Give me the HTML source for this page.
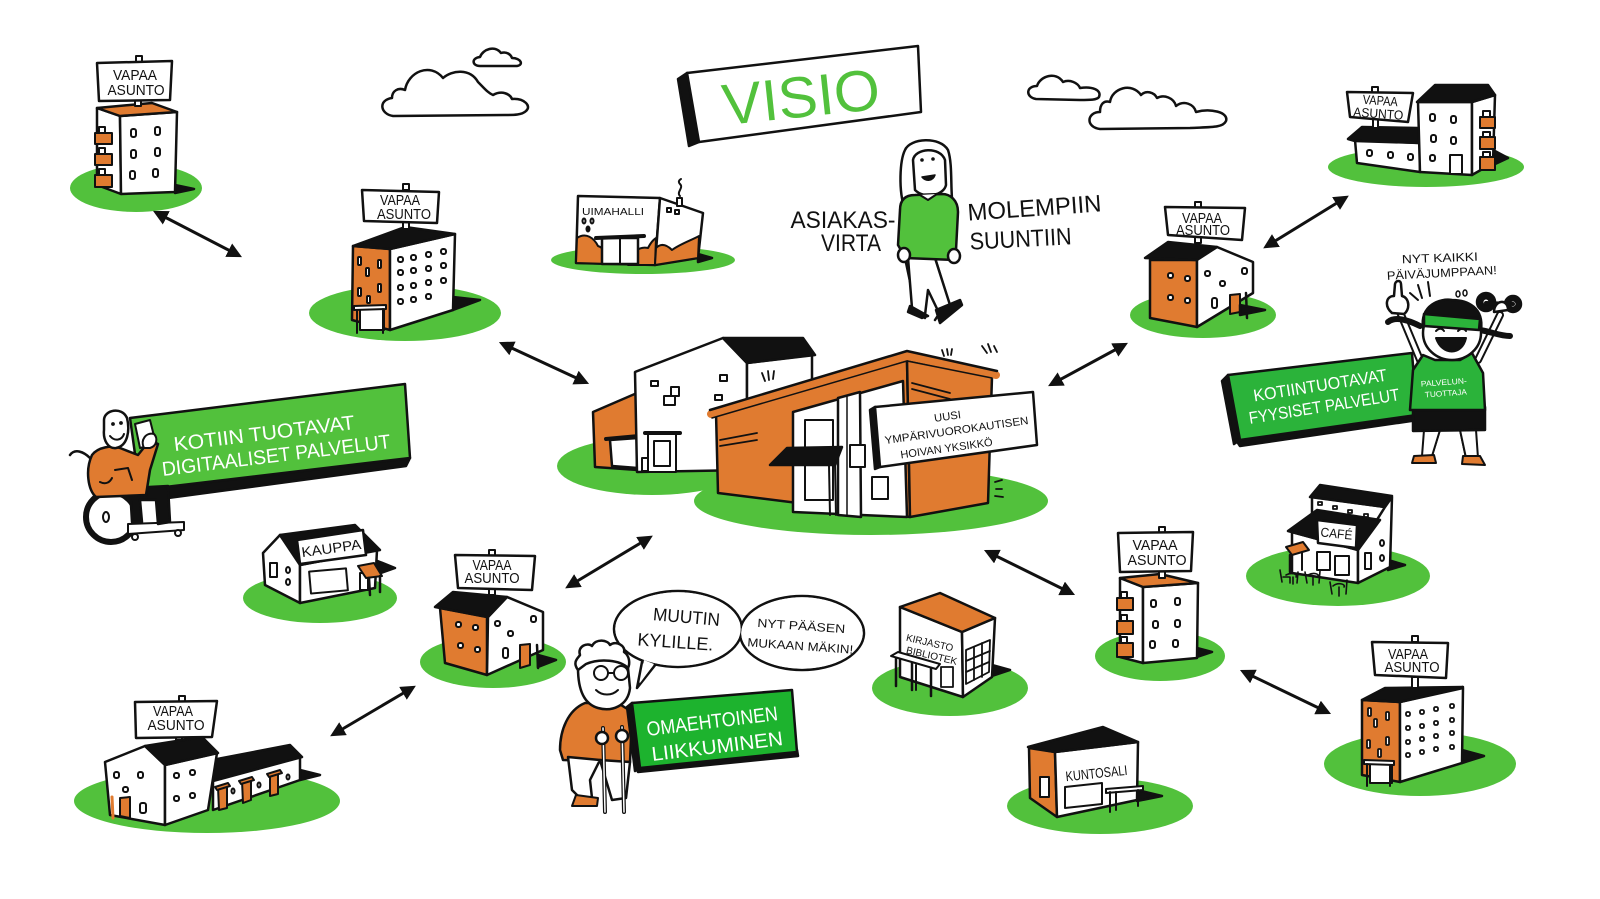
<!DOCTYPE html>
<html><head><meta charset="utf-8"><title>Visio</title>
<style>
html,body{margin:0;padding:0;background:#fff;width:1600px;height:899px;overflow:hidden}
svg{display:block}
text{font-family:"Liberation Sans","DejaVu Sans",sans-serif}
</style></head><body>
<svg width="1600" height="899" viewBox="0 0 1600 899" xmlns="http://www.w3.org/2000/svg">
<defs>
<marker id="ah" viewBox="0 0 10 10" refX="7" refY="5" markerWidth="5" markerHeight="5" orient="auto-start-reverse"><path d="M0,0 L10,5 L0,10 z" fill="#111"/></marker>
</defs>
<rect width="1600" height="899" fill="#fff"/>

<!-- green lawns -->
<g fill="#52c13c">
<ellipse cx="136" cy="188" rx="66" ry="24"/>
<ellipse cx="405" cy="313" rx="96" ry="28"/>
<ellipse cx="643" cy="260" rx="92" ry="14"/>
<ellipse cx="652" cy="466" rx="95" ry="29"/>
<ellipse cx="871" cy="501" rx="177" ry="34"/>
<ellipse cx="1426" cy="167" rx="98" ry="20"/>
<ellipse cx="1203" cy="315" rx="73" ry="23"/>
<ellipse cx="320" cy="598" rx="77" ry="25"/>
<ellipse cx="493" cy="662" rx="73" ry="26"/>
<ellipse cx="207" cy="801" rx="133" ry="32"/>
<ellipse cx="950" cy="688" rx="78" ry="28"/>
<ellipse cx="1160" cy="656" rx="65" ry="25"/>
<ellipse cx="1338" cy="576" rx="92" ry="30"/>
<ellipse cx="1100" cy="806" rx="93" ry="28"/>
<ellipse cx="1420" cy="764" rx="96" ry="32"/>
</g>

<!-- arrows -->
<g stroke="#111" stroke-width="3" marker-start="url(#ah)" marker-end="url(#ah)">
<line x1="157" y1="213" x2="238" y2="255"/>
<line x1="503" y1="344" x2="585" y2="382"/>
<line x1="1052" y1="384" x2="1124" y2="345"/>
<line x1="1267" y1="246" x2="1345" y2="198"/>
<line x1="569" y1="586" x2="649" y2="538"/>
<line x1="334" y1="734" x2="412" y2="688"/>
<line x1="988" y1="552" x2="1071" y2="593"/>
<line x1="1244" y1="672" x2="1327" y2="712"/>
</g>

<!-- clouds -->
<g fill="#fff" stroke="#111" stroke-width="2.5" stroke-linejoin="round">
<path d="M393,116 C380,114 378,100 392,98 C392,91 398,87 405,90 C408,72 430,62 443,78 C452,70 470,68 478,82 C484,88 488,93 493,95 C502,90 510,94 512,99 C524,98 532,106 526,111 C522,115 514,115 505,115 Z"/>
<path d="M480,66 C472,66 471,58 480,57 C483,49 495,45 501,53 C507,51 511,55 512,58 C521,58 524,65 517,66 Z"/>
<path d="M1036,99 C1025,97 1026,86 1037,86 C1040,76 1056,71 1063,82 C1070,79 1078,83 1080,88 C1092,86 1102,90 1099,97 C1097,100 1090,100 1080,100 Z"/>
<path d="M1100,129 C1085,127 1087,112 1100,112 C1100,104 1104,100 1110,102 C1112,88 1132,82 1141,95 C1146,90 1154,92 1157,98 C1164,94 1174,98 1176,106 C1184,100 1194,104 1196,112 C1210,108 1229,112 1226,121 C1223,128 1210,127 1190,128 Z"/>
</g>

<g stroke="#111" stroke-width="2.5" stroke-linejoin="round" stroke-linecap="round" fill="#fff">

<!-- ===== TL tower ===== -->
<polygon points="175,185 194,189 175,193" fill="#111"/>
<polygon points="97,108 120,116 121,194 97,185"/>
<polygon points="120,116 177,112 175,192 121,194"/>
<polygon points="97,108 152,103 177,112 120,116" fill="#e07b30"/>
<g stroke-width="2">
<rect x="131" y="129" width="5" height="8" rx="2"/><rect x="155" y="127" width="5" height="8" rx="2"/>
<rect x="131" y="150" width="5" height="8" rx="2"/><rect x="155" y="148" width="5" height="8" rx="2"/>
<rect x="130" y="171" width="5" height="8" rx="2"/><rect x="153" y="169" width="5" height="8" rx="2"/>
<rect x="99" y="127" width="6" height="6"/><rect x="95" y="133" width="17" height="11" fill="#e07b30"/>
<rect x="99" y="148" width="6" height="6"/><rect x="95" y="154" width="17" height="11" fill="#e07b30"/>
<rect x="99" y="169" width="6" height="6"/><rect x="95" y="175" width="17" height="12" fill="#e07b30"/>
</g>
<rect x="135" y="100" width="6" height="6" stroke-width="2"/>
<rect x="136" y="56" width="6" height="6" stroke-width="2"/>
<polygon points="97,63 172,61 170,100 99,101"/>

<!-- ===== building 2 ===== -->
<polygon points="453,297 480,300 453,310" fill="#111"/>
<polygon points="353,246 390,249 390,330 352,320" fill="#e07b30"/>
<polygon points="390,249 455,234 453,310 390,330"/>
<polygon points="353,246 405,227 455,234 390,249" fill="#111"/>
<g stroke-width="2">
<rect x="398" y="257" width="5" height="5" rx="2"/><rect x="411" y="255" width="5" height="5" rx="2"/><rect x="426" y="252" width="5" height="5" rx="2"/><rect x="441" y="249" width="5" height="5" rx="2"/>
<rect x="398" y="270" width="5" height="5" rx="2"/><rect x="411" y="268" width="5" height="5" rx="2"/><rect x="426" y="266" width="5" height="5" rx="2"/><rect x="441" y="263" width="5" height="5" rx="2"/>
<rect x="398" y="285" width="5" height="5" rx="2"/><rect x="411" y="283" width="5" height="5" rx="2"/><rect x="426" y="280" width="5" height="5" rx="2"/><rect x="441" y="278" width="5" height="5" rx="2"/>
<rect x="398" y="299" width="5" height="5" rx="2"/><rect x="411" y="297" width="5" height="5" rx="2"/><rect x="426" y="294" width="5" height="5" rx="2"/>
<rect x="358" y="257" width="3" height="8" rx="1"/><rect x="378" y="260" width="3" height="8" rx="1"/><rect x="366" y="268" width="3" height="8" rx="1"/>
<rect x="358" y="288" width="3" height="8" rx="1"/><rect x="378" y="284" width="3" height="8" rx="1"/><rect x="367" y="296" width="3" height="7" rx="1"/>
</g>
<rect x="360" y="308" width="24" height="22" stroke-width="2"/>
<polygon points="354,306 386,305 386,309 354,310" stroke-width="2"/>
<line x1="357" y1="310" x2="357" y2="333" stroke-width="2"/><line x1="383" y1="309" x2="383" y2="333" stroke-width="2"/>
<rect x="403" y="221" width="6" height="8" stroke-width="2"/>
<rect x="403" y="184" width="6" height="6" stroke-width="2"/>
<polygon points="362,190 439,192 437,223 364,221"/>

<!-- ===== UIMAHALLI ===== -->
<polygon points="698,254 712,258 698,262" fill="#111"/>
<polygon points="578,196 660,198 655,265 576,263"/>
<polygon points="660,198 703,213 698,258 655,265"/>
<path d="M577,238 C586,232 594,238 598,246 C604,248 609,255 610,264 L576,263 Z" fill="#e07b30" stroke-width="2"/>
<path d="M628,265 C630,252 640,246 648,248 C652,240 656,238 656,238 L655,265 Z" fill="#e07b30" stroke-width="2"/>
<path d="M655,265 L656,248 C662,242 668,246 672,250 C680,244 692,240 699,236 L698,258 Z" fill="#e07b30" stroke-width="2"/>
<rect x="602" y="238" width="36" height="26"/>
<line x1="596" y1="238" x2="644" y2="236" stroke-width="4"/>
<line x1="620" y1="238" x2="620" y2="264" stroke-width="2"/>
<g stroke-width="2"><rect x="667" y="208" width="4" height="4"/><rect x="675" y="210" width="4" height="4"/>
<ellipse cx="584" cy="221" rx="1.5" ry="2.5"/><ellipse cx="592" cy="221" rx="1.5" ry="2.5"/><ellipse cx="588" cy="229" rx="1.5" ry="2.5" fill="#111"/>
<rect x="677" y="198" width="5" height="8"/><path d="M680,196 C676,192 684,188 680,184 C677,181 681,179 681,179" fill="none"/></g>

<!-- ===== VISIO sign ===== -->
<polygon points="678,79 687,73 699,142 689,146" fill="#111"/>
<polygon points="687,73 918,46 921,112 699,142"/>

<!-- ===== Woman (center) ===== -->
<path d="M905,210 C898,190 900,160 905,150 C910,138 940,136 948,150 C953,165 950,190 953,208 L940,205 L918,205 Z"/>
<path d="M913,160 C915,148 940,146 945,160 L946,185 C944,195 925,200 915,190 Z"/>
<circle cx="922" cy="160" r="1.3" fill="#111" stroke-width="1"/><circle cx="933" cy="159" r="1.3" fill="#111" stroke-width="1"/>
<path d="M922,177 C926,182 933,181 935,175 Z" fill="#111" stroke-width="1.5"/>
<path d="M905,258 L915,305 L925,318 M935,258 L948,300 L935,320" fill="none"/>
<polygon points="908,258 935,258 950,305 940,315 928,290 925,315 912,308"/>
<path d="M910,306 L928,316 L922,318 L908,312 Z" fill="#111"/>
<path d="M936,310 L960,300 L962,305 L940,323 Z" fill="#111"/>
<path d="M915,195 C905,195 900,200 900,210 L898,245 L902,252 L905,258 L955,260 L956,250 L958,212 C958,200 950,194 942,194 Z" fill="#52c13c"/>
<path d="M920,195 L928,200 L937,194" fill="#fff" stroke-width="2"/>
<ellipse cx="904" cy="255" rx="6" ry="7"/><ellipse cx="954" cy="256" rx="6" ry="7"/>

<!-- ===== Top-right building ===== -->
<polygon points="1493,150 1508,158 1493,165" fill="#111"/>
<polygon points="1355,140 1420,143 1420,172 1357,163"/>
<polygon points="1348,139 1362,127 1418,128 1420,143 1355,141" fill="#111"/>
<polygon points="1418,102 1472,102 1472,175 1420,172"/>
<polygon points="1472,102 1495,95 1493,163 1472,175"/>
<polygon points="1417,102 1435,85 1488,85 1495,95 1472,102" fill="#111"/>
<g stroke-width="2">
<rect x="1367" y="150" width="5" height="6" rx="2"/><rect x="1388" y="152" width="5" height="6" rx="2"/><rect x="1408" y="154" width="5" height="6" rx="2"/><rect x="1430" y="155" width="5" height="6" rx="2"/>
<rect x="1430" y="114" width="5" height="7" rx="2"/><rect x="1451" y="116" width="5" height="7" rx="2"/>
<rect x="1431" y="135" width="5" height="7" rx="2"/><rect x="1451" y="137" width="5" height="7" rx="2"/>
<rect x="1450" y="155" width="12" height="19"/>
<rect x="1483" y="111" width="7" height="6"/><rect x="1480" y="117" width="15" height="11" fill="#e07b30"/>
<rect x="1483" y="132" width="7" height="6"/><rect x="1480" y="137" width="15" height="12" fill="#e07b30"/>
<rect x="1483" y="152" width="7" height="6"/><rect x="1480" y="157" width="15" height="13" fill="#e07b30"/>
</g>
<rect x="1373" y="117" width="5" height="11" stroke-width="2"/>
<rect x="1372" y="87" width="6" height="6" stroke-width="2"/>
<polygon points="1347,92 1413,93 1408,122 1350,117"/>

<!-- ===== Right house ===== -->
<polygon points="1150,260 1197,260 1197,327 1150,318" fill="#e07b30"/>
<polygon points="1197,259 1217,247 1253,262 1253,293 1197,327"/>
<polygon points="1145,258 1168,242 1217,247 1197,260" fill="#111"/>
<polygon points="1230,295 1240,294 1240,312 1230,314" fill="#e07b30" stroke-width="2"/>
<line x1="1246" y1="293" x2="1247" y2="318" stroke-width="2.5"/>
<polygon points="1240,305 1265,310 1240,315" fill="#111"/>
<g stroke-width="2">
<rect x="1168" y="273" width="5" height="5" rx="2"/><rect x="1185" y="276" width="5" height="5" rx="2"/>
<rect x="1168" y="295" width="5" height="5" rx="2"/><rect x="1185" y="298" width="5" height="5" rx="2"/>
<rect x="1205" y="271" width="5" height="5" rx="2"/><rect x="1220" y="281" width="5" height="5" rx="2"/><rect x="1242" y="268" width="5" height="6" rx="2"/>
<rect x="1212" y="298" width="5" height="10" rx="2"/>
</g>
<rect x="1195" y="235" width="6" height="8" stroke-width="2"/>
<rect x="1195" y="202" width="6" height="6" stroke-width="2"/>
<polygon points="1165,207 1245,208 1242,240 1168,235"/>

<!-- ===== Right green box ===== -->
<polygon points="1222,381 1228,375 1240,440 1234,444" fill="#111"/>
<polygon points="1236,440 1417,415 1418,420 1240,446" fill="#111"/>
<polygon points="1228,375 1412,353 1417,415 1240,440" fill="#2bb33a"/>

<!-- ===== Sporty woman ===== -->
<path d="M1420,360 L1400,312" fill="none" stroke-width="8"/>
<path d="M1420,360 L1400,312" fill="none" stroke="#fff" stroke-width="4"/>
<path d="M1478,360 L1500,315" fill="none" stroke-width="8"/>
<path d="M1478,360 L1500,315" fill="none" stroke="#fff" stroke-width="4"/>
<path d="M1392,313 C1384,306 1386,296 1394,296 L1395,284 C1396,280 1401,280 1401,284 L1402,296 C1410,298 1410,310 1404,314 Z"/>
<circle cx="1486" cy="302" r="9" fill="#111"/><circle cx="1486" cy="302" r="3" fill="#fff" stroke-width="1"/>
<circle cx="1513" cy="304" r="8" fill="#111"/><circle cx="1513" cy="304" r="3" fill="#fff" stroke-width="1"/>
<line x1="1486" y1="303" x2="1513" y2="304" stroke-width="4"/>
<path d="M1494,312 C1494,300 1508,298 1508,310 Z"/>
<path d="M1428,430 L1424,456 M1440,430 L1432,456 M1460,430 L1466,458 M1474,430 L1478,458" fill="none" stroke-width="2"/>
<polygon points="1424,430 1440,430 1432,456 1422,456" stroke-width="2"/>
<polygon points="1460,430 1476,430 1478,458 1466,458" stroke-width="2"/>
<path d="M1414,456 L1434,455 L1436,463 L1412,463 Z" fill="#e07b30" stroke-width="2"/>
<path d="M1463,456 L1480,456 L1485,465 L1462,464 Z" fill="#e07b30" stroke-width="2"/>
<polygon points="1413,407 1485,407 1485,430 1413,431" fill="#111"/>
<path d="M1423,355 L1413,370 L1410,410 L1485,410 L1483,373 L1472,353 L1460,360 L1435,360 Z" fill="#2bb33a"/>
<path d="M1388,322 C1395,316 1408,320 1420,326 M1480,330 C1492,332 1500,336 1510,336" fill="none" stroke-width="6"/>
<ellipse cx="1452" cy="333" rx="29" ry="27"/>
<path d="M1423,328 C1420,305 1440,298 1452,300 C1468,300 1484,308 1481,330 L1478,318 L1426,316 Z" fill="#111"/>
<polygon points="1424,314 1480,319 1479,330 1424,326" fill="#2bb33a"/>
<path d="M1436,338 C1442,356 1462,356 1466,338 Z" fill="#111" stroke-width="2"/>
<path d="M1436,331 C1439,328 1442,328 1444,331 M1458,331 C1461,328 1464,328 1466,331" fill="none" stroke-width="2"/>
<path d="M1418,285 L1422,298 M1428,282 L1430,296 M1410,293 L1418,300" fill="none" stroke-width="2"/>
<ellipse cx="1458" cy="294" rx="2" ry="3" stroke-width="1.5"/><ellipse cx="1465" cy="293" rx="2" ry="3" stroke-width="1.5"/>

<!-- ===== Left green box & wheelchair man ===== -->
<polygon points="160,488 410,458 406,466 168,498" fill="#111"/>
<polygon points="130,418 405,384 410,458 140,490" fill="#52c13c"/>
<path d="M70,455 C75,448 84,452 90,458" fill="none" stroke-width="2.5"/>
<circle cx="111" cy="517" r="25" fill="none" stroke-width="6"/>
<ellipse cx="106" cy="517" rx="3" ry="5" stroke-width="2"/>
<path d="M128,524 L184,522 L184,530 L128,534 Z" stroke-width="2"/>
<circle cx="135" cy="537" r="3" stroke-width="2"/><circle cx="178" cy="533" r="3" stroke-width="2"/>
<path d="M130,488 L168,486 L170,522 L158,524 L156,500 L140,500 L142,522 L132,522 Z" fill="#111"/>
<path d="M92,455 C98,447 112,445 120,448 L138,455 L150,440 L158,444 L150,470 L146,495 L96,497 C88,490 85,470 92,455 Z" fill="#e07b30"/>
<path d="M115,470 L128,468 L132,480 M100,482 C106,485 110,482 112,478" fill="none" stroke-width="2"/>
<polygon points="135,424 150,420 156,444 140,448" stroke-width="2"/>
<path d="M144,448 C140,440 146,432 154,434 C158,438 157,446 150,448 Z" stroke-width="2"/>
<path d="M104,420 C104,410 122,406 127,418 C130,430 128,446 116,448 C108,449 103,440 104,430 Z"/>
<circle cx="113" cy="424" r="1.4" fill="#111" stroke-width="1"/><circle cx="121" cy="423" r="1.4" fill="#111" stroke-width="1"/>
<path d="M110,436 C115,442 122,440 124,434" fill="none" stroke-width="2"/>

<!-- ===== KAUPPA ===== -->
<polygon points="375,560 395,568 375,575" fill="#111"/>
<polygon points="263,553 280,535 300,563 300,603 265,585"/>
<polygon points="300,565 377,550 375,588 300,603"/>
<polygon points="280,535 355,525 380,550 300,565" fill="#111"/>
<polygon points="297,540 363,530 366,555 300,564"/>
<rect x="310" y="570" width="37" height="22" stroke-width="2" transform="rotate(-5 328 581)"/>
<rect x="270" y="563" width="7" height="14" stroke-width="2"/>
<ellipse cx="288" cy="570" rx="2" ry="3" stroke-width="2"/><ellipse cx="288" cy="582" rx="2" ry="3" stroke-width="2"/>
<rect x="360" y="573" width="8" height="17" stroke-width="2"/>
<polygon points="358,566 374,563 382,576 366,578" fill="#e07b30" stroke-width="2"/>
<line x1="369" y1="578" x2="370" y2="595" stroke-width="2.5"/><line x1="380" y1="576" x2="380" y2="592" stroke-width="2.5"/>

<!-- ===== center-left VAPAA house ===== -->
<polygon points="440,608 487,617 487,675 445,663" fill="#e07b30"/>
<polygon points="488,617 507,597 543,612 543,650 487,675"/>
<polygon points="435,607 453,592 507,597 488,617" fill="#111"/>
<polygon points="520,645 530,644 530,665 520,668" fill="#e07b30" stroke-width="2"/>
<line x1="537" y1="645" x2="538" y2="668" stroke-width="2.5"/>
<polygon points="538,655 556,660 538,667" fill="#111"/>
<g stroke-width="2">
<rect x="456" y="622" width="5" height="5" rx="2"/><rect x="473" y="625" width="5" height="5" rx="2"/>
<rect x="458" y="643" width="5" height="5" rx="2"/><rect x="475" y="647" width="5" height="5" rx="2"/>
<rect x="495" y="621" width="5" height="5" rx="2"/><rect x="508" y="631" width="5" height="5" rx="2"/><rect x="531" y="616" width="5" height="6" rx="2"/>
<rect x="503" y="648" width="5" height="10" rx="2"/>
</g>
<rect x="489" y="587" width="6" height="8" stroke-width="2"/>
<rect x="489" y="550" width="6" height="6" stroke-width="2"/>
<polygon points="455,555 535,556 532,590 458,588"/>

<!-- ===== bottom-left building ===== -->
<polygon points="300,770 320,775 300,780" fill="#111"/>
<polygon points="213,780 300,757 300,780 213,810"/>
<polygon points="212,760 290,745 302,757 213,781" fill="#111"/>
<polygon points="105,762 145,746 165,765 165,825 110,815"/>
<polygon points="165,765 217,753 208,810 165,825"/>
<polygon points="145,746 202,737 218,753 165,765" fill="#111"/>
<g stroke-width="2">
<rect x="114" y="772" width="5" height="6" rx="2"/><rect x="138" y="772" width="5" height="6" rx="2"/><rect x="123" y="787" width="5" height="5" rx="2"/>
<rect x="140" y="803" width="6" height="10" rx="2"/>
<rect x="174" y="773" width="5" height="5" rx="2"/><rect x="190" y="770" width="5" height="5" rx="2"/>
<rect x="174" y="796" width="5" height="5" rx="2"/><rect x="190" y="793" width="5" height="5" rx="2"/>
<polygon points="120,798 130,797 130,818 120,816" fill="#e07b30"/>
<line x1="112" y1="797" x2="113" y2="818" stroke-width="3" stroke="#e07b30"/>
<polygon points="218,787 227,784 227,808 219,810" fill="#e07b30"/>
<polygon points="215,787 228,783 230,786 217,790" fill="#e07b30"/>
<polygon points="242,781 251,778 251,800 243,803" fill="#e07b30"/>
<polygon points="239,781 252,777 254,780 241,784" fill="#e07b30"/>
<polygon points="270,774 278,771 278,794 270,796" fill="#e07b30"/>
<polygon points="267,774 280,770 282,773 269,777" fill="#e07b30"/>
<ellipse cx="233" cy="791" rx="1.5" ry="2.5"/><ellipse cx="259" cy="785" rx="1.5" ry="2.5"/><ellipse cx="288" cy="777" rx="1.5" ry="2.5"/>
</g>
<rect x="176" y="732" width="6" height="8" stroke-width="2"/>
<rect x="179" y="696" width="6" height="6" stroke-width="2"/>
<polygon points="135,702 217,701 212,737 136,738"/>

<!-- ===== Speech bubbles ===== -->
<path d="M642,662 L637,688 L656,664 Z"/>
<ellipse cx="678" cy="629" rx="64" ry="38"/>
<ellipse cx="802" cy="633" rx="62" ry="37"/>
<g stroke="none">
<ellipse cx="678" cy="629" rx="62.7" ry="36.7"/>
<ellipse cx="802" cy="633" rx="60.7" ry="35.7"/>
<path d="M644,660 L640,683 L654,664 Z"/>
</g>

<!-- ===== Old woman ===== -->
<path d="M585,703 C568,710 560,730 560,750 L563,760 L630,762 L632,712 L618,703 Z" fill="#e07b30"/>
<path d="M568,757 L572,790 L582,800 L592,798 L590,780 L600,760 Z"/>
<path d="M576,795 L598,798 L597,806 L572,806 Z" fill="#e07b30" stroke-width="2"/>
<path d="M600,760 L612,800 L626,798 L630,762 Z"/>
<line x1="603" y1="728" x2="605" y2="812" stroke-width="4"/>
<line x1="603" y1="728" x2="605" y2="812" stroke="#fff" stroke-width="1.5"/>
<line x1="622" y1="727" x2="624" y2="812" stroke-width="4"/>
<line x1="622" y1="727" x2="624" y2="812" stroke="#fff" stroke-width="1.5"/>
<ellipse cx="602" cy="738" rx="6" ry="6"/><ellipse cx="622" cy="736" rx="6" ry="6"/>
<path d="M578,668 C576,650 592,642 606,646 C618,646 628,654 628,668 L630,688 C628,706 612,712 598,708 C584,704 578,690 578,668 Z"/>
<path d="M578,670 C572,662 578,658 580,655 C577,646 588,642 592,646 C596,638 608,640 610,645 C616,640 626,646 624,652 C630,656 630,664 628,668 C620,660 600,658 586,664 Z"/>
<circle cx="601" cy="673" r="7" stroke-width="2"/><circle cx="621" cy="673" r="7" stroke-width="2"/>
<line x1="608" y1="673" x2="614" y2="673" stroke-width="2"/>
<path d="M596,690 C602,696 612,696 618,690" fill="none" stroke-width="2"/>

<!-- ===== OMAEHTOINEN box ===== -->
<polygon points="627,707 632,703 640,768 635,771" fill="#111"/>
<polygon points="636,766 797,750 798,756 638,772" fill="#111"/>
<polygon points="632,703 792,690 797,752 640,768" fill="#1db32e"/>

<!-- ===== Kirjasto ===== -->
<polygon points="992,665 1010,670 992,676" fill="#111"/>
<polygon points="900,607 962,632 963,697 900,677"/>
<polygon points="962,632 995,618 992,677 963,697"/>
<polygon points="900,607 940,593 995,618 962,632" fill="#e07b30"/>
<g stroke-width="1.8">
<polygon points="966,650 990,640 989,672 966,684"/>
<line x1="974" y1="647" x2="974" y2="680"/><line x1="982" y1="643" x2="982" y2="677"/>
<line x1="966" y1="661" x2="990" y2="651"/><line x1="966" y1="672" x2="989" y2="662"/>
<rect x="941" y="667" width="12" height="20"/>
</g>
<polygon points="891,656 898,652 940,664 936,669" stroke-width="2"/>
<line x1="896" y1="658" x2="896" y2="686" stroke-width="2.5"/><line x1="912" y1="663" x2="912" y2="690" stroke-width="2.5"/><line x1="931" y1="668" x2="931" y2="696" stroke-width="2.5"/>
<line x1="916" y1="665" x2="916" y2="690" stroke-width="2"/>

<!-- ===== mid-right tower ===== -->
<polygon points="1197,648 1212,652 1197,657" fill="#111"/>
<polygon points="1120,578 1143,587 1143,663 1120,657"/>
<polygon points="1143,587 1198,583 1197,658 1143,663"/>
<polygon points="1120,578 1160,574 1198,583 1143,587" fill="#e07b30"/>
<g stroke-width="2">
<rect x="1151" y="600" width="5" height="7" rx="2"/><rect x="1175" y="598" width="5" height="7" rx="2"/>
<rect x="1153" y="621" width="5" height="7" rx="2"/><rect x="1175" y="620" width="5" height="7" rx="2"/>
<rect x="1150" y="641" width="5" height="7" rx="2"/><rect x="1173" y="640" width="5" height="7" rx="2"/>
<rect x="1121" y="592" width="6" height="6"/><rect x="1117" y="598" width="16" height="12" fill="#e07b30"/>
<rect x="1121" y="615" width="6" height="6"/><rect x="1117" y="621" width="16" height="13" fill="#e07b30"/>
<rect x="1121" y="637" width="6" height="6"/><rect x="1117" y="643" width="16" height="14" fill="#e07b30"/>
</g>
<rect x="1159" y="571" width="6" height="7" stroke-width="2"/>
<rect x="1159" y="527" width="6" height="6" stroke-width="2"/>
<polygon points="1118,533 1193,532 1191,571 1120,572"/>

<!-- ===== Café ===== -->
<polygon points="1388,560 1405,565 1388,570" fill="#111"/>
<polygon points="1312,497 1385,507 1383,528 1312,518"/>
<polygon points="1310,497 1320,485 1392,496 1385,507" fill="#111"/>
<g stroke-width="1.8"><rect x="1318" y="502" width="4" height="3"/><rect x="1333" y="506" width="4" height="3"/><rect x="1348" y="510" width="4" height="3"/><rect x="1364" y="514" width="4" height="3"/></g>
<polygon points="1292,532 1358,550 1358,583 1292,573"/>
<polygon points="1358,550 1385,507 1392,497 1390,567 1358,583"/>
<polygon points="1288,531 1317,510 1380,520 1358,550" fill="#111"/>
<polygon points="1317,520 1357,525 1356,548 1318,543"/>
<g stroke-width="2">
<rect x="1317" y="552" width="13" height="18"/><rect x="1335" y="556" width="14" height="19"/>
<rect x="1365" y="553" width="6" height="16"/>
<ellipse cx="1382" cy="543" rx="2" ry="3"/><ellipse cx="1382" cy="558" rx="2" ry="3"/>
</g>
<polygon points="1286,547 1303,542 1309,550 1292,555" fill="#e07b30" stroke-width="2"/>
<line x1="1290" y1="555" x2="1290" y2="572" stroke-width="2.5"/><line x1="1302" y1="552" x2="1302" y2="570" stroke-width="2"/>
<g stroke-width="1.6" fill="none">
<path d="M1280,570 L1282,582 M1283,577 L1290,577 L1290,583 M1286,575 C1292,572 1298,574 1296,577 M1293,577 L1293,584 M1298,572 L1297,583"/>
<path d="M1305,572 L1307,583 M1308,575 C1314,572 1320,574 1318,577 M1313,577 L1313,585 M1320,571 L1319,583"/>
<path d="M1330,582 L1332,594 M1333,586 C1338,582 1346,584 1344,587 M1339,587 L1339,596 M1347,580 L1346,594"/>
</g>

<!-- ===== Kuntosali ===== -->
<polygon points="1137,790 1162,796 1137,801" fill="#111"/>
<polygon points="1029,748 1055,752 1057,817 1030,798" fill="#e07b30"/>
<polygon points="1055,752 1138,742 1137,800 1057,817"/>
<polygon points="1028,747 1103,727 1138,742 1055,752" fill="#111"/>
<rect x="1040" y="777" width="9" height="20" stroke-width="2"/>
<polygon points="1065,787 1102,783 1102,804 1065,808" stroke-width="2"/>
<polygon points="1106,789 1143,786 1143,790 1106,793" stroke-width="2"/>
<line x1="1110" y1="792" x2="1110" y2="812" stroke-width="2"/><line x1="1116" y1="792" x2="1116" y2="810" stroke-width="2"/><line x1="1138" y1="790" x2="1138" y2="806" stroke-width="2"/>

<!-- ===== bottom-right tower ===== -->
<polygon points="1462,750 1484,756 1462,763" fill="#111"/>
<polygon points="1362,700 1400,702 1400,782 1362,775" fill="#e07b30"/>
<polygon points="1400,702 1463,688 1462,763 1400,782"/>
<polygon points="1362,700 1385,688 1463,687 1400,702" fill="#111"/>
<g stroke-width="1.8">
<rect x="1406" y="712" width="4" height="4" rx="1.5"/><rect x="1420" y="710" width="4" height="4" rx="1.5"/><rect x="1434" y="707" width="4" height="4" rx="1.5"/><rect x="1450" y="704" width="4" height="4" rx="1.5"/>
<rect x="1406" y="726" width="4" height="4" rx="1.5"/><rect x="1420" y="724" width="4" height="4" rx="1.5"/><rect x="1434" y="721" width="4" height="4" rx="1.5"/><rect x="1450" y="718" width="4" height="4" rx="1.5"/>
<rect x="1406" y="740" width="4" height="4" rx="1.5"/><rect x="1420" y="737" width="4" height="4" rx="1.5"/><rect x="1434" y="734" width="4" height="4" rx="1.5"/><rect x="1450" y="731" width="4" height="4" rx="1.5"/>
<rect x="1406" y="753" width="4" height="4" rx="1.5"/><rect x="1420" y="750" width="4" height="4" rx="1.5"/><rect x="1434" y="747" width="4" height="4" rx="1.5"/><rect x="1450" y="745" width="4" height="4" rx="1.5"/>
<rect x="1368" y="708" width="3" height="8" rx="1"/><rect x="1386" y="712" width="3" height="8" rx="1"/><rect x="1374" y="719" width="3" height="8" rx="1"/>
<rect x="1367" y="740" width="3" height="8" rx="1"/><rect x="1386" y="737" width="3" height="8" rx="1"/><rect x="1378" y="749" width="3" height="8" rx="1"/>
</g>
<rect x="1370" y="763" width="22" height="20" stroke-width="2"/>
<polygon points="1364,760 1394,761 1394,765 1364,764" stroke-width="2"/>
<line x1="1367" y1="764" x2="1367" y2="786" stroke-width="2"/><line x1="1390" y1="765" x2="1390" y2="786" stroke-width="2"/>
<rect x="1412" y="677" width="6" height="11" stroke-width="2"/>
<rect x="1412" y="636" width="6" height="6" stroke-width="2"/>
<polygon points="1372,642 1448,643 1446,678 1375,675"/>

<!-- ===== Central building ===== -->
<polygon points="593,412 637,393 637,470 595,467" fill="#e07b30"/>
<polygon points="610,440 637,438 637,468 612,466"/>
<line x1="606" y1="439" x2="639" y2="436" stroke-width="4"/>
<polygon points="635,372 723,338 747,363 747,470 637,472"/>
<polygon points="747,363 812,355 812,412 747,420"/>
<polygon points="723,338 803,338 815,355 747,363" fill="#111"/>
<rect x="648" y="434" width="28" height="38" stroke-width="2"/>
<rect x="654" y="441" width="16" height="25" stroke-width="2"/>
<line x1="645" y1="433" x2="680" y2="433" stroke-width="4"/>
<rect x="642" y="458" width="6" height="13" stroke-width="2"/>
<g stroke-width="2">
<rect x="651" y="381" width="7" height="5"/><rect x="720" y="375" width="7" height="6"/><rect x="715" y="395" width="7" height="5"/>
<rect x="664" y="396" width="11" height="9"/><rect x="671" y="387" width="8" height="9"/>
</g>
<polygon points="716,413 907,359 910,517 718,493" fill="#e07b30"/>
<polygon points="907,359 992,377 988,503 910,517" fill="#e07b30"/>
<polyline points="711,414 907,356 996,375" fill="none" stroke="#e07b30" stroke-width="8"/>
<polyline points="710,410 907,351 997,371" fill="none"/>
<polyline points="712,418 907,361 992,378" fill="none" stroke-width="1.5"/>
<polygon points="793,412 903,381 907,517 793,512"/>
<polygon points="838,398 860,392 861,517 838,515"/>
<line x1="847" y1="396" x2="847" y2="516" stroke-width="1.5"/>
<rect x="805" y="420" width="28" height="80" stroke-width="2"/>
<polygon points="770,465 787,448 842,447 835,465" fill="#111"/>
<line x1="829" y1="465" x2="830" y2="515" stroke-width="2"/><line x1="835" y1="465" x2="836" y2="515" stroke-width="2"/>
<line x1="720" y1="440" x2="757" y2="433" stroke-width="1.8"/><line x1="720" y1="446" x2="757" y2="440" stroke-width="1.8"/>
<line x1="912" y1="383" x2="950" y2="393" stroke-width="1.8"/><line x1="912" y1="389" x2="950" y2="399" stroke-width="1.8"/>
<rect x="850" y="445" width="15" height="22" stroke-width="2"/>
<rect x="872" y="477" width="16" height="22" stroke-width="2"/>
<g stroke-width="1.8" fill="none">
<path d="M762,373 L765,381 M768,371 L769,380 M774,371 L773,379"/>
<path d="M942,350 L944,356 M947,349 L948,355 M952,349 L951,355"/>
<path d="M982,346 L987,353 M988,344 L991,352 M994,346 L997,352"/>
<path d="M995,482 L1002,480 M996,489 L1002,489 M995,496 L1003,497"/>
</g>
<polygon points="870,410 875,407 880,467 875,469" fill="#111"/>
<polygon points="875,407 1033,392 1037,445 880,467"/>
</g>

<!-- ===== TEXT ===== -->
<g font-size="15" fill="#111" text-anchor="middle" lengthAdjust="spacingAndGlyphs">
<text x="135" y="80" textLength="44" lengthAdjust="spacingAndGlyphs">VAPAA</text>
<text x="136" y="95" textLength="57" lengthAdjust="spacingAndGlyphs">ASUNTO</text>
<text x="400" y="205" textLength="40" lengthAdjust="spacingAndGlyphs">VAPAA</text>
<text x="404" y="219" textLength="54" lengthAdjust="spacingAndGlyphs">ASUNTO</text>
<text x="1202" y="223" textLength="40" lengthAdjust="spacingAndGlyphs">VAPAA</text>
<text x="1203" y="235" textLength="54" lengthAdjust="spacingAndGlyphs">ASUNTO</text>
<text x="1380" y="105" textLength="35" lengthAdjust="spacingAndGlyphs" font-size="13" transform="rotate(4 1380 105)">VAPAA</text>
<text x="1378" y="118" textLength="50" lengthAdjust="spacingAndGlyphs" font-size="13" transform="rotate(4 1378 118)">ASUNTO</text>
<text x="492" y="570" textLength="39" lengthAdjust="spacingAndGlyphs">VAPAA</text>
<text x="492" y="583" textLength="55" lengthAdjust="spacingAndGlyphs">ASUNTO</text>
<text x="173" y="716" textLength="40" lengthAdjust="spacingAndGlyphs">VAPAA</text>
<text x="176" y="730" textLength="57" lengthAdjust="spacingAndGlyphs">ASUNTO</text>
<text x="1155" y="550" textLength="45" lengthAdjust="spacingAndGlyphs">VAPAA</text>
<text x="1157" y="565" textLength="59" lengthAdjust="spacingAndGlyphs">ASUNTO</text>
<text x="1408" y="659" textLength="40" lengthAdjust="spacingAndGlyphs">VAPAA</text>
<text x="1412" y="672" textLength="55" lengthAdjust="spacingAndGlyphs">ASUNTO</text>

<text x="613" y="215" font-size="10" textLength="62" lengthAdjust="spacingAndGlyphs">UIMAHALLI</text>
<text x="332" y="553" font-size="14" textLength="60" lengthAdjust="spacingAndGlyphs" transform="rotate(-8 332 553)">KAUPPA</text>
<text x="1336" y="538" font-size="13" textLength="32" lengthAdjust="spacingAndGlyphs" transform="rotate(6 1336 538)">CAFÉ</text>
<text x="929" y="646" font-size="10" textLength="48" lengthAdjust="spacingAndGlyphs" transform="rotate(13 929 646)">KIRJASTO</text>
<text x="931" y="659" font-size="10" textLength="52" lengthAdjust="spacingAndGlyphs" transform="rotate(13 931 659)">BIBLIOTEK</text>
<text x="1097" y="778" font-size="14" textLength="62" lengthAdjust="spacingAndGlyphs" transform="rotate(-6 1097 778)">KUNTOSALI</text>

<text x="948" y="420" font-size="11" textLength="27" lengthAdjust="spacingAndGlyphs" transform="rotate(-8 948 420)">UUSI</text>
<text x="957" y="434" font-size="11" textLength="145" lengthAdjust="spacingAndGlyphs" transform="rotate(-8 957 434)">YMPÄRIVUOROKAUTISEN</text>
<text x="947" y="452" font-size="11" textLength="93" lengthAdjust="spacingAndGlyphs" transform="rotate(-8 947 452)">HOIVAN YKSIKKÖ</text>

<text x="843" y="228" font-size="24" textLength="105" lengthAdjust="spacingAndGlyphs">ASIAKAS-</text>
<text x="851" y="251" font-size="24" textLength="60" lengthAdjust="spacingAndGlyphs">VIRTA</text>
<text x="1035" y="216" font-size="24" textLength="134" lengthAdjust="spacingAndGlyphs" transform="rotate(-4 1035 216)">MOLEMPIIN</text>
<text x="1021" y="247" font-size="24" textLength="102" lengthAdjust="spacingAndGlyphs" transform="rotate(-3 1021 247)">SUUNTIIN</text>

<text x="1440" y="262" font-size="12" textLength="76" lengthAdjust="spacingAndGlyphs" transform="rotate(-2 1440 262)">NYT KAIKKI</text>
<text x="1442" y="277" font-size="12" textLength="110" lengthAdjust="spacingAndGlyphs" transform="rotate(-3 1442 277)">PÄIVÄJUMPPAAN!</text>

<text x="686" y="623" font-size="18" textLength="67" lengthAdjust="spacingAndGlyphs" transform="rotate(5 686 623)">MUUTIN</text>
<text x="675" y="648" font-size="18" textLength="76" lengthAdjust="spacingAndGlyphs" transform="rotate(4 675 648)">KYLILLE.</text>
<text x="801" y="630" font-size="12" textLength="88" lengthAdjust="spacingAndGlyphs" transform="rotate(4 801 630)">NYT PÄÄSEN</text>
<text x="800" y="650" font-size="12" textLength="106" lengthAdjust="spacingAndGlyphs" transform="rotate(4 800 650)">MUKAAN MÄKIN!</text>
</g>

<g fill="#fff" text-anchor="middle">
<text x="265" y="440" font-size="20" textLength="182" lengthAdjust="spacingAndGlyphs" transform="rotate(-7 265 440)">KOTIIN TUOTAVAT</text>
<text x="277" y="462" font-size="20" textLength="230" lengthAdjust="spacingAndGlyphs" transform="rotate(-7 277 462)">DIGITAALISET PALVELUT</text>
<text x="1321" y="391" font-size="17" textLength="135" lengthAdjust="spacingAndGlyphs" transform="rotate(-9 1321 391)">KOTIINTUOTAVAT</text>
<text x="1325" y="412" font-size="17" textLength="152" lengthAdjust="spacingAndGlyphs" transform="rotate(-9 1325 412)">FYYSISET PALVELUT</text>
<text x="1444" y="385" font-size="8" textLength="46" lengthAdjust="spacingAndGlyphs" transform="rotate(-4 1444 385)">PALVELUN-</text>
<text x="1446" y="396" font-size="8" textLength="42" lengthAdjust="spacingAndGlyphs" transform="rotate(-4 1446 396)">TUOTTAJA</text>
<text x="713" y="728" font-size="20" textLength="132" lengthAdjust="spacingAndGlyphs" transform="rotate(-7 713 728)">OMAEHTOINEN</text>
<text x="718" y="753" font-size="20" textLength="132" lengthAdjust="spacingAndGlyphs" transform="rotate(-7 718 753)">LIIKKUMINEN</text>
</g>

<text x="801" y="117" font-size="58" fill="#52c13c" text-anchor="middle" textLength="158" lengthAdjust="spacingAndGlyphs" transform="rotate(-6 801 97)">VISIO</text>
</svg>
</body></html>
